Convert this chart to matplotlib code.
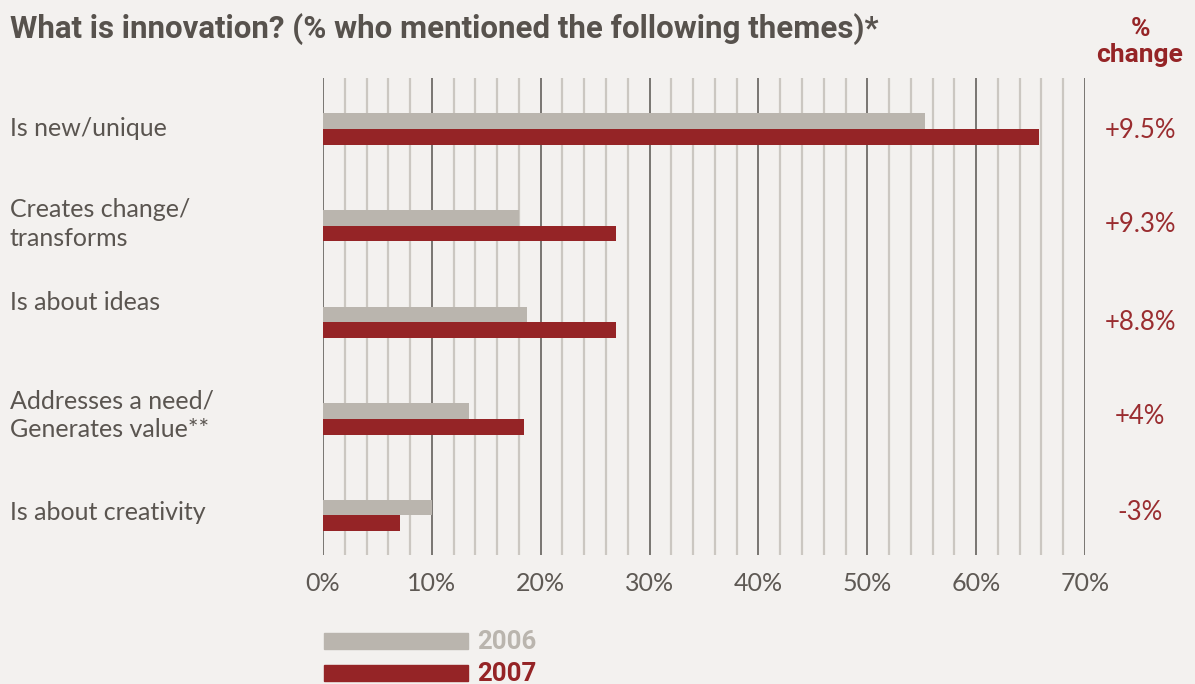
import numpy as np
import matplotlib.pyplot as plt
from matplotlib.patches import Rectangle

# data
themes = ["Is new/unique", "Creates change/\ntransforms", "Is about ideas",
          "Addresses a need/\nGenerates value**", "Is about creativity"]
pct_2006 = [55.3, 18.0, 18.7, 13.4, 10.0]
pct_2007 = [65.8, 26.9, 26.9, 18.5, 7.1]
changes = ["+9.5%", "+9.3%", "+8.8%", "+4%", "-3%"]
xticks = [0, 10, 20, 30, 40, 50, 60, 70]

BG = "#f3f1ef"
GREY = "#bab5ae"
RED = "#952426"
TEXT = "#57524d"
TITLE_FONT = ["Roboto", "DejaVu Sans"]
BODY_FONT = ["Lato", "DejaVu Sans"]

W, H = 1195, 684
fig = plt.figure(figsize=(W / 100, H / 100), dpi=100, facecolor=BG)
ax = fig.add_axes([323 / W, 1 - 555 / H, (1085 - 323) / W, (555 - 78) / H])
ax.set_facecolor(BG)

y = np.arange(len(themes))
h = 0.163
ax.barh(y - h / 2, pct_2006, height=h, color=GREY, zorder=3)
ax.barh(y + h / 2, pct_2007, height=h, color=RED, zorder=3)

ax.set_xlim(0, 70)
ax.set_ylim(4.41, -0.53)

# vertical grid: light every 2%, dark every 10%
for v in np.arange(0, 71, 2):
    if v % 10 == 0:
        ax.axvline(v, color="#6f6b67", lw=1.3, zorder=1)
    else:
        ax.axvline(v, color="#cbc7c1", lw=1.6, zorder=1)

for s in ax.spines.values():
    s.set_visible(False)
ax.set_yticks([])
ax.set_xticks(xticks)
ax.set_xticklabels([f"{v}%" for v in xticks], fontsize=18, color="#5e5954",
                   family=BODY_FONT)
ax.tick_params(axis="x", length=0, pad=12)

# category labels on the left (positions as in the reference)
label_y = [128, 224, 303, 415, 512]
for name, py in zip(themes, label_y):
    fig.text(10 / W, 1 - py / H, name, ha="left", va="center", fontsize=18,
             color="#5a5550", family=BODY_FONT, linespacing=1.3)

# % change column
change_y = [130, 224, 322, 416, 513]
for c, py in zip(changes, change_y):
    fig.text(1140 / W, 1 - py / H, c, ha="center", va="center", fontsize=18.5,
             color="#9a2d30", family=BODY_FONT)
fig.text(1140 / W, 1 - 42 / H, "%\nchange", ha="center", va="center",
         fontsize=19, color=RED, family=TITLE_FONT, fontweight="bold",
         linespacing=1.1)

# title
fig.text(10 / W, 1 - 29 / H, "What is innovation? (% who mentioned the following themes)*",
         ha="left", va="center", fontsize=22.5, color=TEXT, family=TITLE_FONT,
         fontweight="bold")

# legend
for yy, col, lab in [(641, GREY, "2006"), (673, RED, "2007")]:
    fig.add_artist(Rectangle((324 / W, 1 - (yy + 8) / H), 144 / W, 16 / H,
                             transform=fig.transFigure, color=col))
    fig.text(477 / W, 1 - (yy + 1) / H, lab, ha="left", va="center", fontsize=18.5,
             color=col, family=TITLE_FONT, fontweight="bold")

fig.savefig("out.png", dpi=100, facecolor=BG)
